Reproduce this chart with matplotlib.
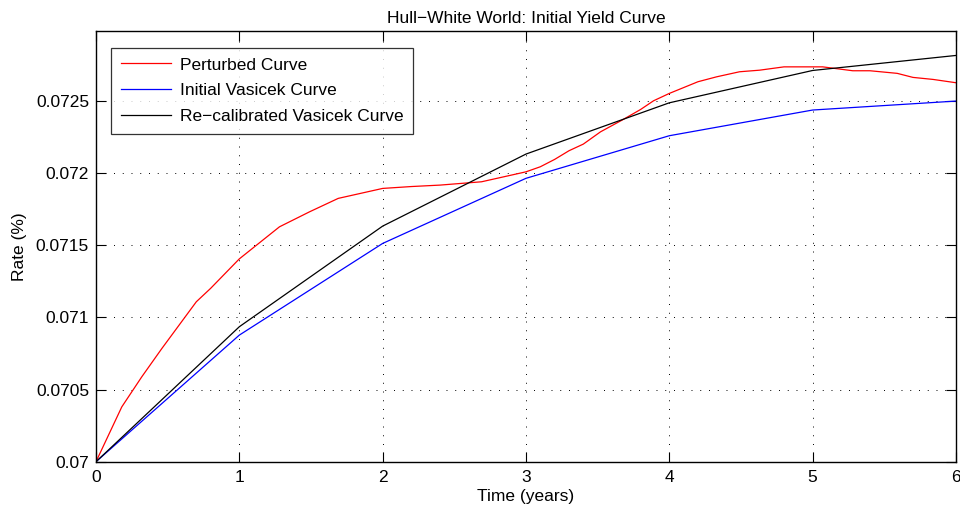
import numpy as np
import matplotlib
matplotlib.use('Agg')
import matplotlib.pyplot as plt
from matplotlib.ticker import FixedLocator, FuncFormatter

plt.rcParams['font.family'] = ['Liberation Sans', 'DejaVu Sans']

# perturbed yield curve
t_pert = [0, 0.18, 0.32, 0.46, 0.70, 0.80, 1.0, 1.28, 1.49, 1.69, 2.0, 2.2, 2.4, 2.69,
          3.0, 3.1, 3.2, 3.3, 3.4, 3.52, 3.67, 3.8, 3.89, 4.0, 4.2, 4.33, 4.49, 4.63,
          4.8, 5.07, 5.28, 5.4, 5.59, 5.7, 5.84, 6.0]
r_pert = [0.07, 0.07038, 0.070589, 0.070785, 0.071108, 0.071201, 0.071405, 0.071627,
          0.071731, 0.071824, 0.071893, 0.071906, 0.071916, 0.071939, 0.072008, 0.072043,
          0.072094, 0.072154, 0.0722, 0.072285, 0.072366, 0.07244, 0.0725, 0.072551,
          0.072632, 0.072666, 0.072701, 0.072712, 0.072735, 0.072735, 0.072708, 0.072708,
          0.07269, 0.072662, 0.072648, 0.072625]

# vasicek curves on yearly grid
t_vas = [0, 1, 2, 3, 4, 5, 6]
r_init = [0.07, 0.070877, 0.071512, 0.071963, 0.072258, 0.072436, 0.072498]
r_recal = [0.07, 0.070935, 0.071632, 0.072131, 0.072486, 0.07271, 0.072814]

yticks = [0.07, 0.0705, 0.071, 0.0715, 0.072, 0.0725]

fs = 12.5

fig = plt.figure(figsize=(9.6, 5.12), dpi=100)
ax = fig.add_axes([0.1, 0.0982, 0.8958, 0.8403])

ax.plot(t_pert, r_pert, color=(1, 0, 0), lw=0.9, label='Perturbed Curve')
ax.plot(t_vas, r_init, color=(0, 0, 1), lw=0.9, label='Initial Vasicek Curve')
ax.plot(t_vas, r_recal, color='k', lw=0.9, label='Re\u2212calibrated Vasicek Curve')

ax.set_xlim(0, 6)
ax.set_ylim(0.07, 0.07298)
ax.xaxis.set_major_locator(FixedLocator(range(7)))
ax.yaxis.set_major_locator(FixedLocator(yticks))
ax.yaxis.set_major_formatter(FuncFormatter(lambda v, p: '%g' % round(v, 5)))

ax.grid(True, color='k', linestyle=(0, (1, 8)), linewidth=0.7)
ax.tick_params(direction='in', length=7, width=0.8, top=True, right=True,
               labelsize=fs, pad=5)
ax.tick_params(axis='x', pad=6)
for s in ax.spines.values():
    s.set_linewidth(1.0)

ax.set_title('Hull\u2212White World: Initial Yield Curve', fontsize=fs, pad=6)
ax.set_xlabel('Time (years)', fontsize=fs, labelpad=3)
ax.set_ylabel('Rate (%)', fontsize=fs, labelpad=6)

leg = ax.legend(loc='upper left', bbox_to_anchor=(0.0174, 0.962), fontsize=fs,
                frameon=True, fancybox=False, edgecolor='k', handlelength=2.9,
                borderaxespad=0, borderpad=0.55, labelspacing=0.62, handletextpad=0.5)
leg.get_frame().set_linewidth(0.9)

fig.savefig('out.png', dpi=100)
